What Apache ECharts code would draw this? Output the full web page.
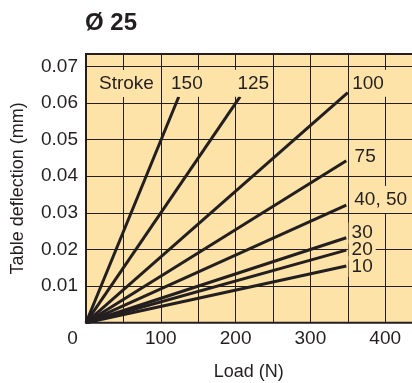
<!DOCTYPE html>
<html>
<head>
<meta charset="utf-8">
<script src="https://cdn.jsdelivr.net/npm/echarts@6/dist/echarts.min.js"></script>
<style>
html, body { margin: 0; padding: 0; background: #fff; }
#chart { width: 412px; height: 383px; }
</style>
</head>
<body>
<div id="chart"></div>
<script>
// stroke curves, each a straight line from the origin
const strokes = ['150', '125', '100', '75', '40, 50', '30', '20', '10']
const endLoads = [124, 206, 350, 348, 348, 348, 348, 348]
const endDeflections = [0.0617, 0.0617, 0.0628, 0.0442, 0.0321, 0.0232, 0.0198, 0.0155]

// label placement next to line ends (text left edge, vertical shift, vertical box padding)
const labelOffsets = [[-7.7, -13.4, 4], [-2.7, -13.4, 4], [4.4, -9.4, 4], [8.3, -4, 4], [8, -5.7, 4], [5.3, -4.7, 1], [5.3, 0, 1], [5.3, 0.5, 1]]

const ink = '#231f20'
const fill = '#fde3a7'
const font = '"Liberation Sans", Arial, sans-serif'
const pad = 3

var myChart = echarts.init(document.getElementById('chart'))

function makeSeries() {
  return strokes.map((name, i) => ({
    name: name,
    type: 'line',
    symbol: 'none',
    silent: true,
    data: [[0, 0], [endLoads[i], endDeflections[i]]],
    lineStyle: { color: ink, width: 3 },
    endLabel: {
      show: true,
      formatter: () => name,
      distance: 0,
      align: 'left',
      verticalAlign: 'middle',
      offset: [labelOffsets[i][0] - pad, labelOffsets[i][1]],
      fontSize: 19,
      fontFamily: font,
      color: ink,
      backgroundColor: fill,
      padding: [labelOffsets[i][2], pad, labelOffsets[i][2], pad]
    }
  }))
}

let option = {
  animation: false,
  title: {
    text: 'Ø 25',
    left: 85,
    top: 11,
    padding: 0,
    textStyle: { fontSize: 24, fontWeight: 'bold', color: ink, fontFamily: font }
  },
  grid: {
    left: 86,
    top: 54,
    width: 336.6,
    bottom: 60.3,
    outerBoundsMode: 'none',
    containLabel: false,
    show: true,
    backgroundColor: fill,
    borderColor: ink,
    borderWidth: 2
  },
  xAxis: {
    type: 'value',
    min: 0,
    max: 450,
    interval: 50,
    name: 'Load (N)',
    nameLocation: 'middle',
    nameGap: 40,
    nameTextStyle: { fontSize: 18, color: ink, fontFamily: font, padding: [0, 11, 0, 0] },
    axisLine: { show: false },
    axisTick: { show: false },
    splitLine: { show: true, lineStyle: { color: ink, width: 1 } },
    axisLabel: {
      interval: 0,
      margin: 7,
      fontSize: 19,
      color: ink,
      fontFamily: font,
      formatter: v => v % 100 !== 0 ? '' : (v === 0 ? '{z|0}' : String(v)),
      rich: { z: { fontSize: 19, color: ink, fontFamily: font, padding: [0, 27, 0, 0] } }
    }
  },
  yAxis: {
    type: 'value',
    min: 0,
    max: 0.07336,
    interval: 0.01,
    name: 'Table deflection (mm)',
    nameLocation: 'middle',
    nameRotate: 90,
    nameGap: 59,
    nameTextStyle: { fontSize: 18, color: ink, fontFamily: font },
    axisLine: { show: false },
    axisTick: { show: false },
    splitLine: { show: true, lineStyle: { color: ink, width: 1 } },
    axisLabel: {
      margin: 8,
      fontSize: 19,
      color: ink,
      fontFamily: font,
      formatter: v => (v > 0 && Math.abs(v * 100 - Math.round(v * 100)) < 1e-6) ? v.toFixed(2) : ''
    }
  },
  graphic: [{
    type: 'text',
    left: 96,
    top: 70,
    z: 100,
    style: {
      text: 'Stroke',
      font: '19px ' + font,
      fill: ink,
      backgroundColor: fill,
      padding: [4, 3, 4, 3]
    }
  }],
  series: makeSeries()
}

myChart.setOption(option)
</script>
</body>
</html>
